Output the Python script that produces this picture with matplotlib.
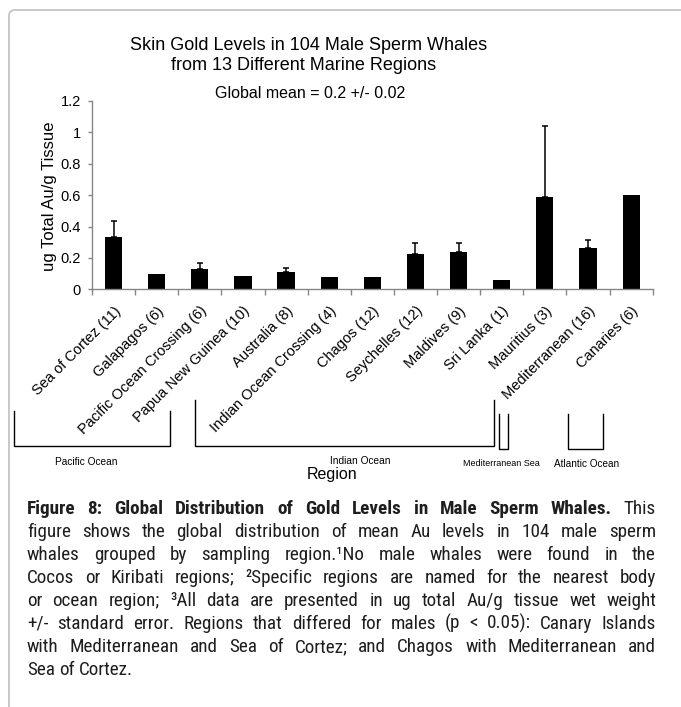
import numpy as np
import matplotlib
matplotlib.use('Agg')
import matplotlib.pyplot as plt
from matplotlib import font_manager as fm
from matplotlib.transforms import blended_transform_factory
from matplotlib.path import Path
from matplotlib.patches import PathPatch

# ---------------- data ----------------
categories = ['Sea of Cortez (11)', 'Galapagos (6)', 'Pacific Ocean Crossing (6)',
              'Papua New Guinea (10)', 'Australia (8)', 'Indian Ocean Crossing (4)',
              'Chagos (12)', 'Seychelles (12)', 'Maldives (9)', 'Sri Lanka (1)',
              'Mauritius (3)', 'Mediterranean (16)', 'Canaries (6)']
means = [0.335, 0.097, 0.13, 0.085, 0.11, 0.08, 0.08, 0.226, 0.238, 0.057, 0.588, 0.262, 0.60]
errors = [0.10, 0.0, 0.035, 0.0, 0.025, 0.0, 0.0, 0.068, 0.058, 0.0, 0.455, 0.053, 0.0]
yticks = [0, 0.2, 0.4, 0.6, 0.8, 1.0, 1.2]
ytick_labels = ['0', '0.2', '0.4', '0.6', '0.8', '1', '1.2']

groups = ['Pacific Ocean', 'Indian Ocean', 'Mediterranean Sea', 'Atlantic Ocean']

title_line1 = 'Skin Gold Levels in 104 Male Sperm Whales'
title_line2 = 'from 13 Different Marine Regions'
subtitle = 'Global mean = 0.2 +/- 0.02'
ylabel = 'ug Total Au/g Tissue'
xlabel = 'Region'

caption_bold = 'Figure 8: Global Distribution of Gold Levels in Male Sperm Whales.'
caption_lines = [
    'Figure 8: Global Distribution of Gold Levels in Male Sperm Whales. This',
    'figure shows the global distribution of mean Au levels in 104 male sperm',
    'whales grouped by sampling region.\u00b9No male whales were found in the',
    'Cocos or Kiribati regions; \u00b2Specific regions are named for the nearest body',
    'or ocean region; \u00b3All data are presented in ug total Au/g tissue wet weight',
    '+/- standard error. Regions that differed for males (p < 0.05): Canary Islands',
    'with Mediterranean and Sea of Cortez; and Chagos with Mediterranean and',
    'Sea of Cortez.',
]

# ---------------- fonts ----------------
names = {f.name for f in fm.fontManager.ttflist}
base_font = 'Liberation Sans' if 'Liberation Sans' in names else 'DejaVu Sans'
narrow_font = None
for cand in ['Liberation Sans Narrow', 'Arial Narrow', 'Roboto Condensed', 'PT Sans Narrow',
             'Archivo Narrow', 'Asap Condensed']:
    if cand in names:
        narrow_font = cand
        break
plt.rcParams['font.family'] = [base_font, 'DejaVu Sans']

# ---------------- layout ----------------
W, H = 681, 707
fig = plt.figure(figsize=(W / 100, H / 100), dpi=100)


def fx(px):
    return px / W


def fy(py):
    return 1 - py / H


# frame (rounded corner, light gray)
r = 6
verts = [(fx(9), fy(H + 2)), (fx(9), fy(10 + r)), (fx(9), fy(10)), (fx(9 + r), fy(10)), (fx(W + 2), fy(10))]
codes = [Path.MOVETO, Path.LINETO, Path.CURVE3, Path.CURVE3, Path.LINETO]
fig.patches.append(PathPatch(Path(verts, codes), transform=fig.transFigure, fill=False,
                             edgecolor='#c4c4c4', lw=1.3))

gray = '#868686'
ax = fig.add_axes([fx(92), fy(289.3), fx(652.7) - fx(92), (289.3 - 101) / H])
x = np.arange(len(categories))
m = np.array(means)
e = np.array(errors)
ax.bar(x, m, width=0.4, color='black', zorder=2)
mask = e > 0
ax.errorbar(x[mask], m[mask], yerr=[np.zeros(mask.sum()), e[mask]], fmt='none',
            ecolor='black', elinewidth=1.1, capsize=2.3, capthick=1.1, zorder=3)
ax.set_xlim(-0.5, len(categories) - 0.5)
ax.set_ylim(0, 1.2)
ax.set_yticks(yticks)
ax.set_yticklabels(ytick_labels, fontsize=10.5)
ax.set_xticks(x)
ax.set_xticklabels(categories, rotation=45, ha='right', va='top',
                   rotation_mode='anchor', fontsize=10.5)
ax.set_xticks(np.arange(-0.5, len(categories), 1), minor=True)
ax.tick_params(axis='x', which='major', length=0, pad=10.5)
ax.tick_params(axis='x', which='minor', length=4, width=1, color=gray, direction='out')
ax.tick_params(axis='y', length=3, width=1, color=gray, pad=5)
for s in ['top', 'right']:
    ax.spines[s].set_visible(False)
for s in ['left', 'bottom']:
    ax.spines[s].set_color(gray)
    ax.spines[s].set_linewidth(1)
ax.patch.set_alpha(0)

# titles
fig.text(fx(309), fy(45), title_line1, ha='center', va='center', fontsize=13)
fig.text(fx(304), fy(66), title_line2, ha='center', va='center', fontsize=13)
fig.text(fx(310), fy(93), subtitle, ha='center', va='center', fontsize=11.5)
fig.text(fx(50), fy(196), ylabel, rotation=90, ha='center', va='center', fontsize=12)
fig.text(fx(332), fy(475), xlabel, ha='center', va='center', fontsize=11.5)

# region brackets (x in category units, y in page pixels)
tr = blended_transform_factory(ax.transData, fig.transFigure)


def cat(px):
    return (px - 92) / ((652.7 - 92) / len(categories)) - 0.5


brackets = [
    (cat(14), cat(169.6), 411, 411, 446),
    (cat(194.5), cat(494.5), 400, 400, 446),
    (cat(498.7), cat(508.3), 414, 414, 449),
    (cat(568.3), cat(603.3), 414, 414, 449),
]
for (x0, x1, yt0, yt1, yb) in brackets:
    ax.plot([x0, x0, x1, x1], [fy(yt0), fy(yb), fy(yb), fy(yt1)], color='black', lw=1,
            transform=tr, clip_on=False, solid_joinstyle='miter')

group_pos = [(86, 462, 7.3), (360, 461, 7.3), (501, 464, 6.5), (587, 464, 7.2)]
for name, (px, py, fs) in zip(groups, group_pos):
    fig.text(fx(px), fy(py), name, ha='center', va='center', fontsize=fs)

# caption, justified
cap_font = narrow_font if narrow_font else base_font
cap_size = 13.8 if narrow_font else 12
left, right = 27, 656
Wline = right - left
fig.canvas.draw()
renderer = fig.canvas.get_renderer()
n_bold = len(caption_bold.split(' '))


def make_line(k, line, size):
    words = line.split(' ')
    texts = []
    for i, w in enumerate(words):
        weight = 'bold' if (k == 0 and i < n_bold) else 'normal'
        t = fig.text(0, fy(514 + 23 * k), w, ha='left', va='baseline', fontsize=size,
                     family=[cap_font, base_font, 'DejaVu Sans'], weight=weight,
                     color='#1e1e1e')
        texts.append(t)
    return texts


all_lines = [make_line(k, ln, cap_size) for k, ln in enumerate(caption_lines)]
widths = [[t.get_window_extent(renderer).width for t in tl] for tl in all_lines]
maxw = max(sum(wl) + 2.5 * (len(wl) - 1) for wl in widths)
if maxw > Wline:
    f = Wline / maxw
    for tl in all_lines:
        for t in tl:
            t.set_fontsize(cap_size * f)
    fig.canvas.draw()
    widths = [[t.get_window_extent(renderer).width for t in tl] for tl in all_lines]
fs_now = all_lines[0][-1].get_fontsize()
sp = fig.text(0, 0, 'a a', fontsize=fs_now, family=[cap_font])
sp2 = fig.text(0, 0, 'aa', fontsize=fs_now, family=[cap_font])
space_w = sp.get_window_extent(renderer).width - sp2.get_window_extent(renderer).width
sp.remove()
sp2.remove()
for k, (tl, wl) in enumerate(zip(all_lines, widths)):
    if k == len(all_lines) - 1 or len(tl) == 1:
        gap = space_w
    else:
        gap = (Wline - sum(wl)) / (len(tl) - 1)
    xp = left
    for t, w in zip(tl, wl):
        t.set_x(fx(xp))
        xp += w + gap

fig.savefig('out.png', dpi=100)
